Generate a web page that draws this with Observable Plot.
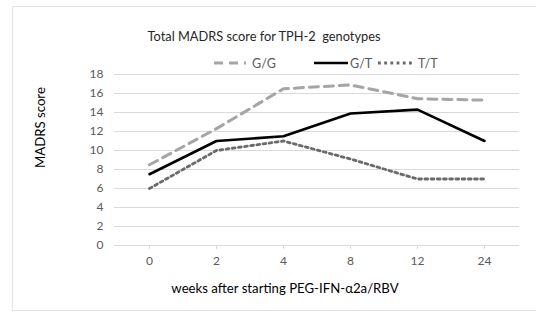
<!DOCTYPE html>
<html>
<head>
<meta charset="utf-8">
<script src="https://cdn.jsdelivr.net/npm/d3@7"></script>
<script src="https://cdn.jsdelivr.net/npm/@observablehq/plot@0.6"></script>
<style>
  html, body { margin: 0; padding: 0; background: #fff; }
  #wrap { position: relative; width: 550px; height: 321px; overflow: hidden; font-family: Lato, "Open Sans", sans-serif; }
  #frame { position: absolute; left: 12px; top: 6px; width: 523px; height: 303px;
           border-top: 1.5px solid #e3e3e3; border-left: 1.5px solid #e3e3e3; border-bottom: 1.5px solid #e3e3e3; }
  #legend { position: absolute; top: 55px; left: 0; width: 550px; height: 16px; font-size: 12.5px; color: #595959; }
  .item { position: absolute; top: 0; display: flex; align-items: center; height: 16px; }
  .item svg { margin-right: 6px; }
  #chart { position: absolute; left: 0; top: 0; }
</style>
</head>
<body>
<div id="wrap">
  <div id="frame"></div>
  <div id="chart"></div>
  <div id="legend"></div>
</div>
<script>
const weeks = ["0", "2", "4", "8", "12", "24"];
const genotypes = ["G/G", "G/T", "T/T"];
const valuesGG = [8.5, 12.3, 16.5, 16.9, 15.45, 15.3];
const valuesGT = [7.5, 11.0, 11.5, 13.9, 14.3, 11.0];
const valuesTT = [6.0, 10.0, 11.0, 9.1, 7.0, 7.0];
const yTicks = [0, 2, 4, 6, 8, 10, 12, 14, 16, 18];
const title = "Total MADRS score for TPH-2  genotypes";
const xLabel = "weeks after starting PEG-IFN-α2a/RBV";
const yLabel = "MADRS score";

const seriesValues = [valuesGG, valuesGT, valuesTT];
const data = genotypes.flatMap((g, i) => weeks.map((w, j) => ({genotype: g, week: w, value: seriesValues[i][j]})));

const styles = {
  "G/G": {stroke: "#a5a5a5", strokeWidth: 3, strokeDasharray: "9,6"},
  "G/T": {stroke: "#000000", strokeWidth: 2.6},
  "T/T": {stroke: "#6a6a6a", strokeWidth: 2.8, strokeDasharray: "2.8,3.4"}
};

const font = "Lato, 'Open Sans', sans-serif";

const chart = Plot.plot({
  width: 550,
  height: 321,
  marginLeft: 114,
  marginRight: 31,
  marginTop: 74,
  marginBottom: 76,
  style: {fontFamily: font, background: "transparent", overflow: "visible"},
  x: {type: "point", domain: weeks, padding: 0.5, label: null},
  y: {domain: [0, 18], label: null},
  marks: [
    Plot.gridY(yTicks, {stroke: "#d9d9d9", strokeOpacity: 1, strokeWidth: 1}),
    Plot.axisY({ticks: yTicks, tickSize: 0, tickPadding: 11, fontSize: 12, fill: "#595959", label: null}),
    Plot.axisX({tickSize: 4, tickPadding: 7, fontSize: 12, fill: "#595959", stroke: "#d9d9d9", label: null}),
    ...genotypes.map(g => Plot.line(data.filter(d => d.genotype === g), {x: "week", y: "value", ...styles[g], strokeLinejoin: "round"})),
    Plot.text([title], {frameAnchor: "top", dx: -53, dy: -43, fontSize: 12.8, fill: "#262626", text: d => d}),
    Plot.text([xLabel], {frameAnchor: "bottom", dx: -32, dy: 47, fontSize: 13.2, fill: "#000", text: d => d}),
    Plot.text([yLabel], {frameAnchor: "left", dx: -74, dy: 8, rotate: -90, fontSize: 13.2, fill: "#000", text: d => d})
  ]
});
document.getElementById("chart").appendChild(chart);

// legend
const legendPos = {"G/G": 214, "G/T": 314, "T/T": 378};
const legendW = {"G/G": 32, "G/T": 34, "T/T": 34};
const legend = document.getElementById("legend");
for (const g of genotypes) {
  const s = styles[g];
  const item = document.createElement("div");
  item.className = "item";
  item.style.left = legendPos[g] + "px";
  const w = legendW[g];
  item.innerHTML = `<svg width="${w}" height="8"><line x1="0" y1="4" x2="${w}" y2="4" stroke="${s.stroke}" stroke-width="${s.strokeWidth}" ${s.strokeDasharray ? `stroke-dasharray="${s.strokeDasharray}"` : ""}/></svg><span>${g}</span>`;
  if (g === "G/T") item.querySelector("svg").style.marginRight = "2px";
  legend.appendChild(item);
}
</script>
</body>
</html>
